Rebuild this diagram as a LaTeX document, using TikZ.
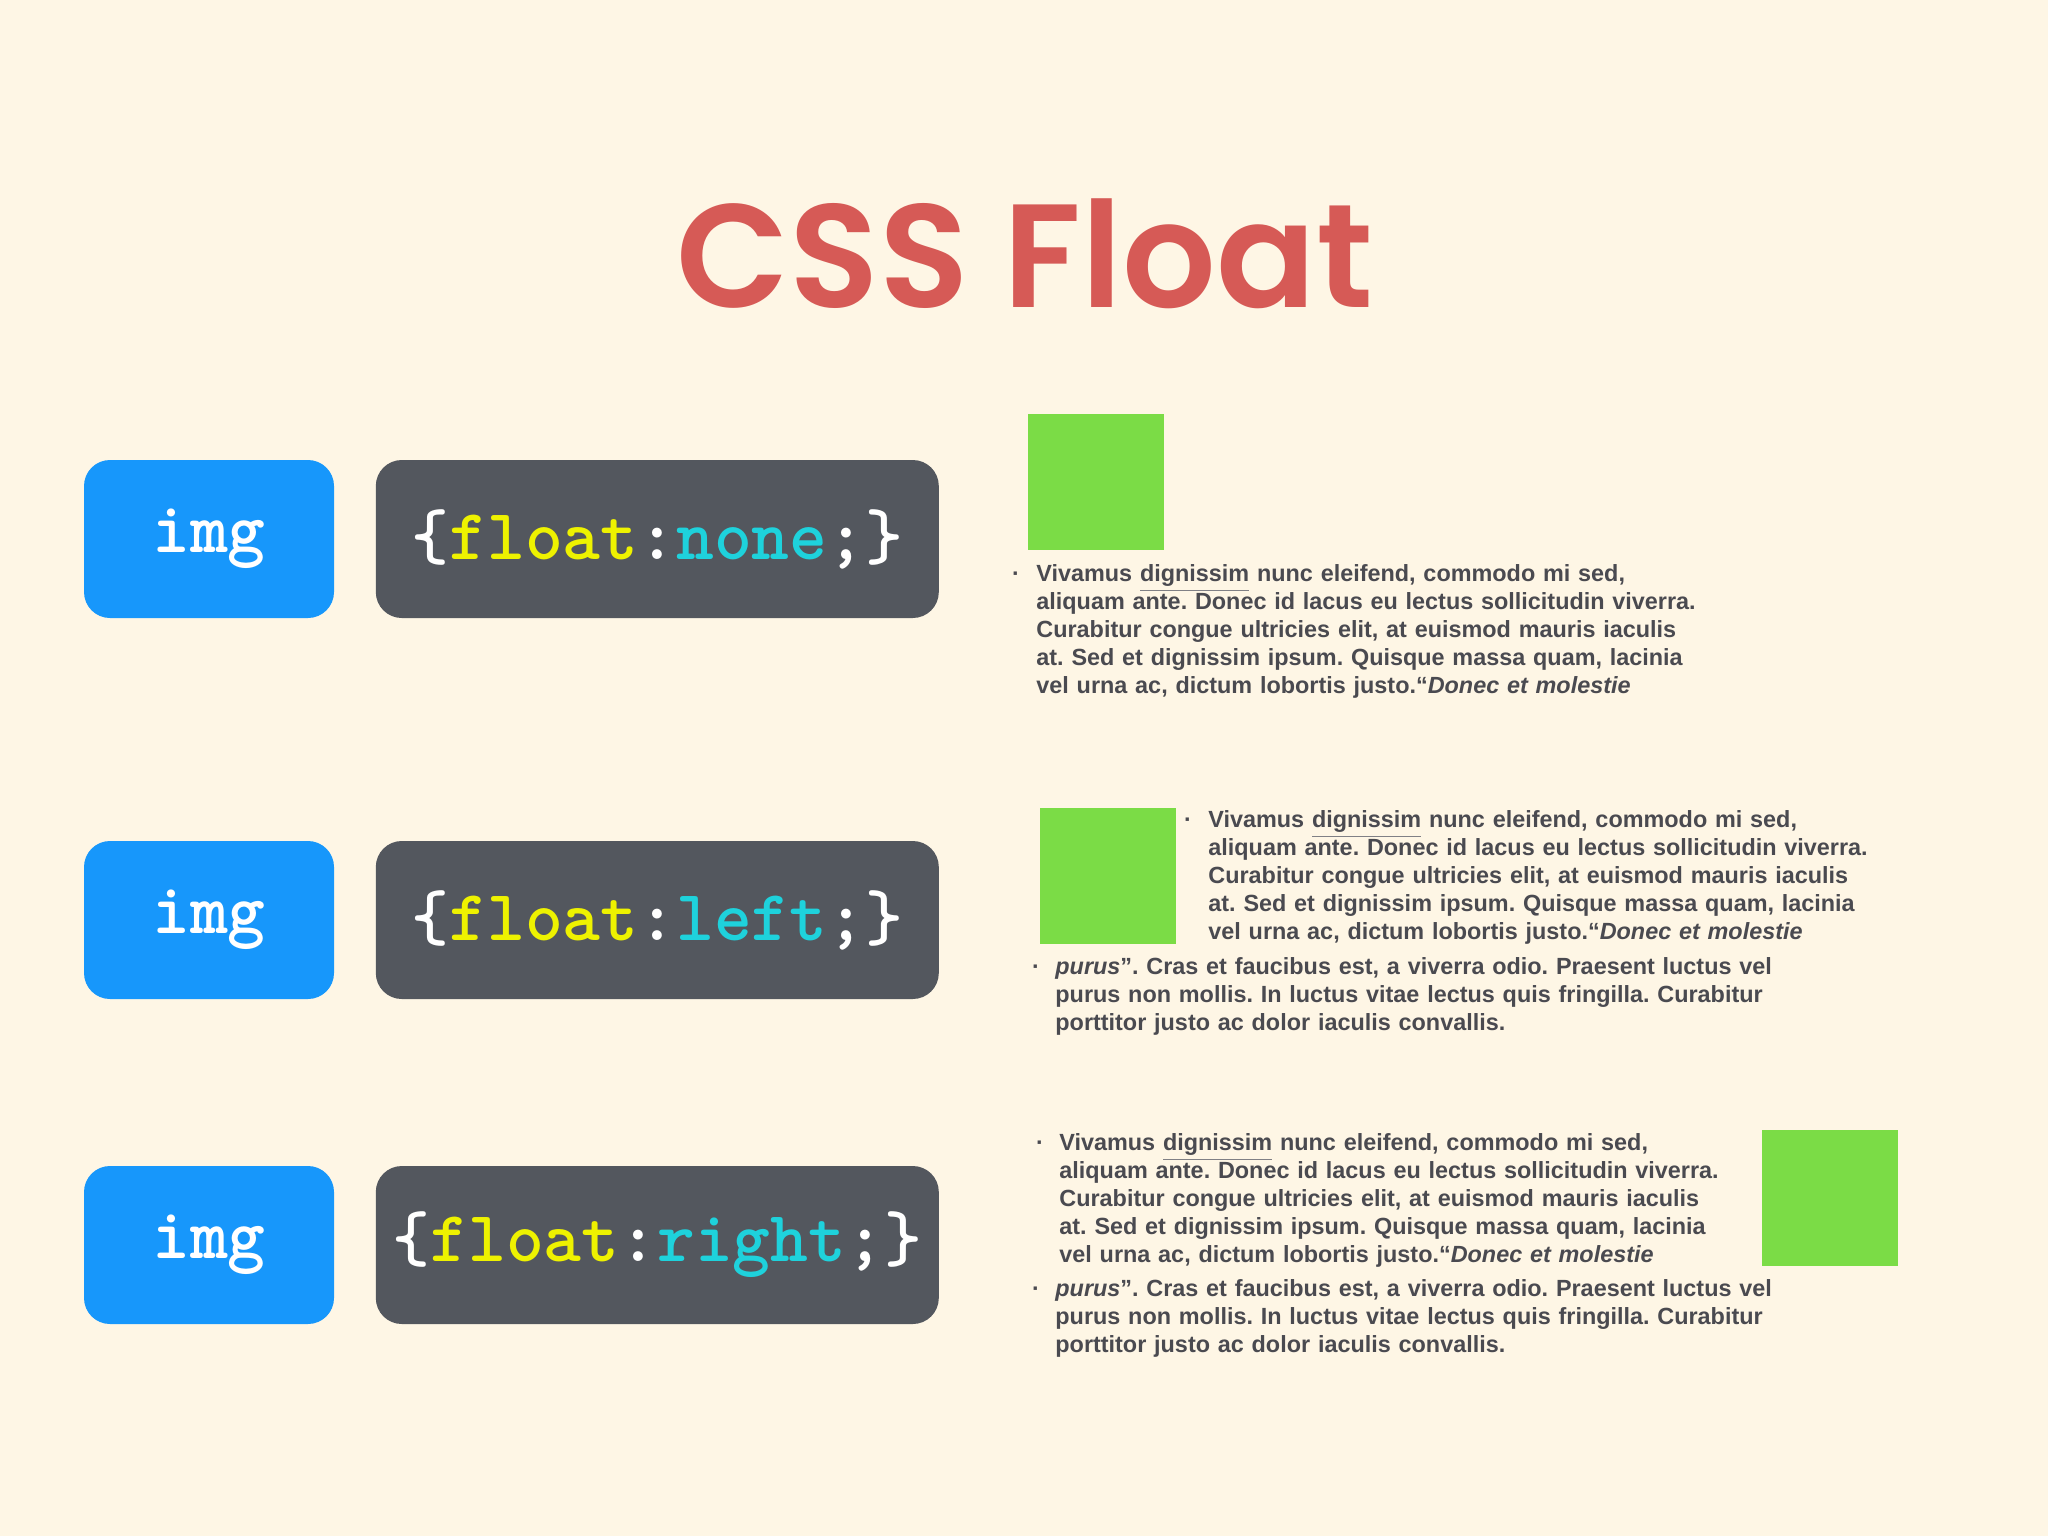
\documentclass[tikz,border=0pt]{standalone}
\usepackage{fontspec}
\usetikzlibrary{positioning}
\newfontfamily\titlefont{Poppins}[BoldFont={Poppins SemiBold}]
\newfontfamily\bodyfont{Liberation Sans}
\frenchspacing
\definecolor{bgcream}{HTML}{FEF6E5}
\definecolor{titlered}{HTML}{D65A56}
\definecolor{imgblue}{HTML}{1797FB}
\definecolor{codegray}{HTML}{53575E}
\definecolor{boxgreen}{HTML}{7BDC46}
\definecolor{codeyellow}{HTML}{EEF200}
\definecolor{codecyan}{HTML}{1ED2DC}
\definecolor{textgray}{HTML}{4A4A50}
\tikzset{
  selbox/.style={fill=imgblue, rounded corners=13pt, minimum width=125pt,
    minimum height=79pt, inner sep=0pt, text=white,
    font=\ttfamily\bfseries\fontsize{36}{36}\selectfont},
  codebox/.style={selbox, fill=codegray, minimum width=281.5pt},
  greensq/.style={fill=boxgreen, minimum size=68pt, inner sep=0pt, anchor=north west},
  para/.style={anchor=base west, inner sep=0pt, text width=380pt, align=left,
    text=textgray, font=\bodyfont\bfseries\fontsize{11.7}{14}\selectfont},
  dot/.style={anchor=base, inner sep=0pt, text=textgray,
    font=\bodyfont\bfseries\fontsize{11.7}{14}\selectfont}
}
% underlined word that does not change the line depth
\newcommand\ulword[1]{\setbox0\hbox{#1}\rlap{\smash{\color{textgray!70}\rule[-5pt]{\wd0}{0.6pt}}}\box0\relax}
\newcommand\parafirst{Vivamus \ulword{dignissim} nunc eleifend, commodo mi sed,\\
  aliquam ante. Donec id lacus eu lectus sollicitudin viverra.\\
  Curabitur congue ultricies elit, at euismod mauris iaculis\\
  at. Sed et dignissim ipsum. Quisque massa quam, lacinia\\
  vel urna ac, dictum lobortis justo.“\textit{Donec et molestie}}
\newcommand\parasecond{\textit{purus}”. Cras et faucibus est, a viverra odio. Praesent luctus vel\\
  purus non mollis. In luctus vitae lectus quis fringilla. Curabitur\\
  porttitor justo ac dolor iaculis convallis.}
\begin{document}
\begin{tikzpicture}[x=0.5pt,y=-0.5pt]
  % background
  \fill[bgcream] (0,0) rectangle (2048,1536);
  \useasboundingbox (0,0) rectangle (2048,1536);
  % title
  \node[anchor=base, inner sep=0pt, text=titlered,
    font=\titlefont\bfseries\fontsize{73.5}{80}\selectfont] (title) at (1025,307) {CSS Float};
  % selector and rule boxes
  \node[selbox] (img1) at (209,539) {img};
  \node[codebox, right=20.5pt of img1] (code1) {\{\textcolor{codeyellow}{float}:\textcolor{codecyan}{none};\}};
  \node[selbox] (img2) at (209,920) {img};
  \node[codebox, right=20.5pt of img2] (code2) {\{\textcolor{codeyellow}{float}:\textcolor{codecyan}{left};\}};
  \node[selbox] (img3) at (209,1245) {img};
  \node[codebox, right=20.5pt of img3] (code3) {\{\textcolor{codeyellow}{float}:\textcolor{codecyan}{right};\}};
  % float: none
  \node[greensq] (sq1) at (1028,414) {};
  \node[dot] (bul1) at (1016,581) {·};
  \node[para] (txt1) at (1036,581) {\parafirst};
  % float: left
  \node[greensq] (sq2) at (1040,808) {};
  \node[dot] (bul2a) at (1188,827) {·};
  \node[para] (txt2a) at (1208,827) {\parafirst};
  \node[dot] (bul2b) at (1036,974) {·};
  \node[para] (txt2b) at (1055,974) {\parasecond};
  % float: right
  \node[greensq] (sq3) at (1762,1130) {};
  \node[dot] (bul3a) at (1040,1150) {·};
  \node[para] (txt3a) at (1059,1150) {\parafirst};
  \node[dot] (bul3b) at (1036,1296) {·};
  \node[para] (txt3b) at (1055,1296) {\parasecond};
\end{tikzpicture}
\end{document}
